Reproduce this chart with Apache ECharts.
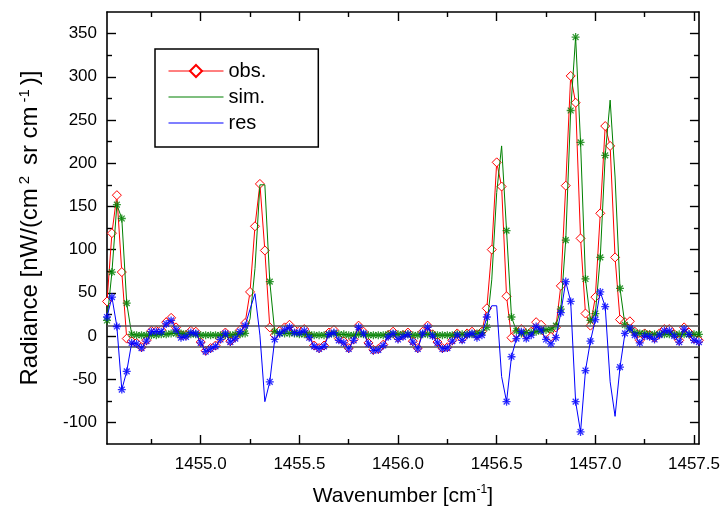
<!DOCTYPE html>
<html>
<head>
<meta charset="utf-8">
<script src="https://cdn.jsdelivr.net/npm/echarts@6/dist/echarts.min.js"></script>
<style>
html,body{margin:0;padding:0;background:#fff;}
#chart{width:723px;height:513px;}
</style>
</head>
<body>
<div id="chart"></div>
<script>
// ---- data ----
var wavenumber = [
1454.525,1454.55,1454.575,1454.6,1454.625,1454.65,1454.675,1454.7,1454.725,1454.75,
1454.775,1454.8,1454.825,1454.85,1454.875,1454.9,1454.925,1454.95,1454.975,1455.0,
1455.025,1455.05,1455.075,1455.1,1455.125,1455.15,1455.175,1455.2,1455.225,1455.25,
1455.275,1455.3,1455.325,1455.35,1455.375,1455.4,1455.425,1455.45,1455.475,1455.5,
1455.525,1455.55,1455.575,1455.6,1455.625,1455.65,1455.675,1455.7,1455.725,1455.75,
1455.775,1455.8,1455.825,1455.85,1455.875,1455.9,1455.925,1455.95,1455.975,1456.0,
1456.025,1456.05,1456.075,1456.1,1456.125,1456.15,1456.175,1456.2,1456.225,1456.25,
1456.275,1456.3,1456.325,1456.35,1456.375,1456.4,1456.425,1456.45,1456.475,1456.5,
1456.525,1456.55,1456.575,1456.6,1456.625,1456.65,1456.675,1456.7,1456.725,1456.75,
1456.775,1456.8,1456.825,1456.85,1456.875,1456.9,1456.925,1456.95,1456.975,1457.0,
1457.025,1457.05,1457.075,1457.1,1457.125,1457.15,1457.175,1457.2,1457.225,1457.25,
1457.275,1457.3,1457.325,1457.35,1457.375,1457.4,1457.425,1457.45,1457.475,1457.5,
1457.525];

var obs = [
40,119,163,74,-3,-6,-8,-13,-5,6,
6,7,16,21,10,1,1,6,5,-7,
-17,-14,-11,-3,4,-6,-1,7,15,51,
127,176,99,10,1,6,10,13,7,6,
8,0,-11,-14,-11,4,7,-3,-6,-14,
-4,12,5,-8,-16,-15,-10,1,5,-2,
1,4,-6,-14,5,12,2,-7,-14,-13,
-5,3,-3,3,5,1,5,32,100,201,
173,46,-2,3,8,1,5,16,13,3,
-1,10,58,174,301,270,113,26,12,45,
142,243,220,91,19,16,17,5,-5,3,
1,-2,3,8,8,2,-5,10,4,-3,
-5];

var sim = [
18,74,152,136,38,2,1,1,1,1,
1,2,2,3,3,3,2,2,2,1,
1,1,1,1,1,1,2,2,3,20,
78,175,175,63,5,3,3,3,3,2,
2,2,1,1,1,2,3,2,2,1,
1,2,2,1,1,1,1,2,2,2,
2,2,1,1,2,2,2,1,1,1,
1,2,2,2,2,3,4,10,65,166,
220,122,22,6,3,4,4,5,6,7,
8,12,31,111,261,346,224,66,18,26,
91,209,273,184,55,13,8,4,3,3,
2,2,2,2,2,2,2,2,2,2,
2];

var res = [
22,45,11,-62,-41,-8,-9,-14,-6,5,
5,5,14,18,7,-2,-1,4,3,-8,
-18,-15,-12,-4,3,-7,-3,5,12,31,
49,1,-76,-53,-4,3,7,10,4,4,
6,-2,-12,-15,-12,2,4,-5,-8,-15,
-5,10,3,-9,-17,-16,-11,-1,3,-4,
-1,2,-7,-15,3,10,0,-8,-15,-14,
-6,1,-5,1,3,-2,1,22,35,35,
-47,-76,-24,-3,5,-3,1,11,7,-4,
-9,-2,27,63,40,-76,-111,-40,-6,19,
51,34,-53,-93,-36,3,9,1,-8,0,
-1,-4,1,6,6,0,-7,8,2,-5,
-7];

// points of sim / res drawn without a marker in the reference
var simNoMarker = [29,30,31,32,78,79,80,102,103];
var resNoMarker = [29,30,31,32,78,79,80,102,103];

var xMajorTicks = [1455.0,1455.5,1456.0,1456.5,1457.0,1457.5];
var xMinorTicks = [1454.75,1455.25,1455.75,1456.25,1456.75,1457.25];
var yMajorTicks = [-100,-50,0,50,100,150,200,250,300,350];
var yMinorTicks = [-75,-25,25,75,125,175,225,275,325];
var residualBand = [12,-12];

var seriesNames = ['obs.','sim.','res'];

// ---- build ----
function pairs(vals){ return wavenumber.map(function(x,i){return [x, vals[i]];}); }
function markerPairs(vals, skip){
  var out=[];
  wavenumber.forEach(function(x,i){ if(skip.indexOf(i)<0) out.push([x, vals[i]]); });
  return out;
}
var FONT = "'Liberation Sans', Arial, sans-serif";
var XMIN = 1454.525, XMAX = 1457.525, YMIN = -125, YMAX = 375;
var star = 'path://M8.4,0L11.6,0L11.6,20L8.4,20Z M0,8.4L20,8.4L20,11.6L0,11.6Z M1.6,3.9L3.9,1.6L18.4,16.1L16.1,18.4Z M16.1,1.6L18.4,3.9L3.9,18.4L1.6,16.1Z';
var lineIcon = 'path://M0,0L55,0L55,1.2L0,1.2Z';

function xAx(pos, ticks, len, showLine, labels, extra){
  var a = {
    type:'value', position:pos, min:XMIN, max:XMAX,
    axisLine:{show:showLine, onZero:false, lineStyle:{color:'#000', width:1.6}},
    axisTick:{show:true, inside:true, length:len, customValues:ticks, lineStyle:{color:'#000', width:1.4}},
    axisLabel:{show:labels, customValues:ticks, color:'#000', fontSize:17, fontFamily:FONT, margin:12,
      formatter:function(v){return Number(v).toFixed(1);}},
    splitLine:{show:false}
  };
  return Object.assign(a, extra||{});
}
function yAx(pos, ticks, len, showLine, labels, extra){
  var a = {
    type:'value', position:pos, min:YMIN, max:YMAX,
    axisLine:{show:showLine, onZero:false, lineStyle:{color:'#000', width:1.6}},
    axisTick:{show:true, inside:true, length:len, customValues:ticks, lineStyle:{color:'#000', width:1.4}},
    axisLabel:{show:labels, customValues:ticks, color:'#000', fontSize:17, fontFamily:FONT, margin:10,
      formatter:function(v){return String(Math.round(v));}},
    splitLine:{show:false}
  };
  return Object.assign(a, extra||{});
}

var chart = echarts.init(document.getElementById('chart'), null, {renderer:'canvas'});
chart.setOption({
  animation:false,
  backgroundColor:'#fff',
  grid:{left:107, right:22, top:12, bottom:67},
  legend:{
    data:[
      {name:seriesNames[0]},
      {name:seriesNames[1], icon:lineIcon},
      {name:seriesNames[2], icon:lineIcon}
    ],
    orient:'vertical', left:155, top:49,
    itemWidth:55, itemHeight:15, itemGap:6,
    padding:[12,52,14,13], borderColor:'#000', borderWidth:1.5,
    lineStyle:{width:1},
    textStyle:{fontSize:20, fontFamily:FONT, color:'#000'},
    selectedMode:false
  },
  xAxis:[
    xAx('bottom', xMajorTicks, 9, true, true, {
      name:'Wavenumber [cm{sup|-1}]', nameLocation:'middle', nameGap:40,
      nameTextStyle:{fontSize:21, fontFamily:FONT, color:'#000', lineHeight:24,
        rich:{sup:{fontSize:12, fontFamily:FONT, color:'#000', verticalAlign:'top', lineHeight:12}}}
    }),
    xAx('bottom', xMinorTicks, 5, false, false),
    xAx('top', xMajorTicks, 9, true, false),
    xAx('top', xMinorTicks, 5, false, false)
  ],
  yAxis:[
    yAx('left', yMajorTicks, 9, true, true, {
      name:'Radiance [nW/(cm{sup|2} sr cm{sup|-1})]', nameLocation:'middle', nameGap:63,
      nameTextStyle:{fontSize:24, fontFamily:FONT, color:'#000', lineHeight:27,
        rich:{sup:{fontSize:15, fontFamily:FONT, color:'#000', verticalAlign:'top', lineHeight:15, padding:[0,4,0,4]}}}
    }),
    yAx('left', yMinorTicks, 5, false, false),
    yAx('right', yMajorTicks, 9, true, false),
    yAx('right', yMinorTicks, 5, false, false)
  ],
  series:[
    {
      name:seriesNames[0], type:'line', data:pairs(obs),
      symbol:'diamond', symbolSize:9, showAllSymbol:true,
      lineStyle:{color:'#ff0000', width:1},
      itemStyle:{color:'#ffffff', borderColor:'#ff0000', borderWidth:1},
      z:2,
      markLine:{
        silent:true, symbol:'none', animation:false,
        label:{show:false},
        lineStyle:{color:'#505050', type:'solid', width:1.5},
        data:residualBand.map(function(v){return {yAxis:v};})
      }
    },
    {
      name:seriesNames[1], type:'line', data:pairs(sim), symbol:'none',
      lineStyle:{color:'#008000', width:1}, itemStyle:{color:'#008000'}, z:3
    },
    {
      name:'simMarkers', type:'scatter', data:markerPairs(sim, simNoMarker),
      symbol:star, symbolSize:8, itemStyle:{color:'#008000'}, z:4
    },
    {
      name:seriesNames[2], type:'line', data:pairs(res), symbol:'none',
      lineStyle:{color:'#0000ff', width:1}, itemStyle:{color:'#0000ff'}, z:5
    },
    {
      name:'resMarkers', type:'scatter', data:markerPairs(res, resNoMarker),
      symbol:star, symbolSize:8, itemStyle:{color:'#0000ff'}, z:6
    }
  ]
});
</script>
</body>
</html>
